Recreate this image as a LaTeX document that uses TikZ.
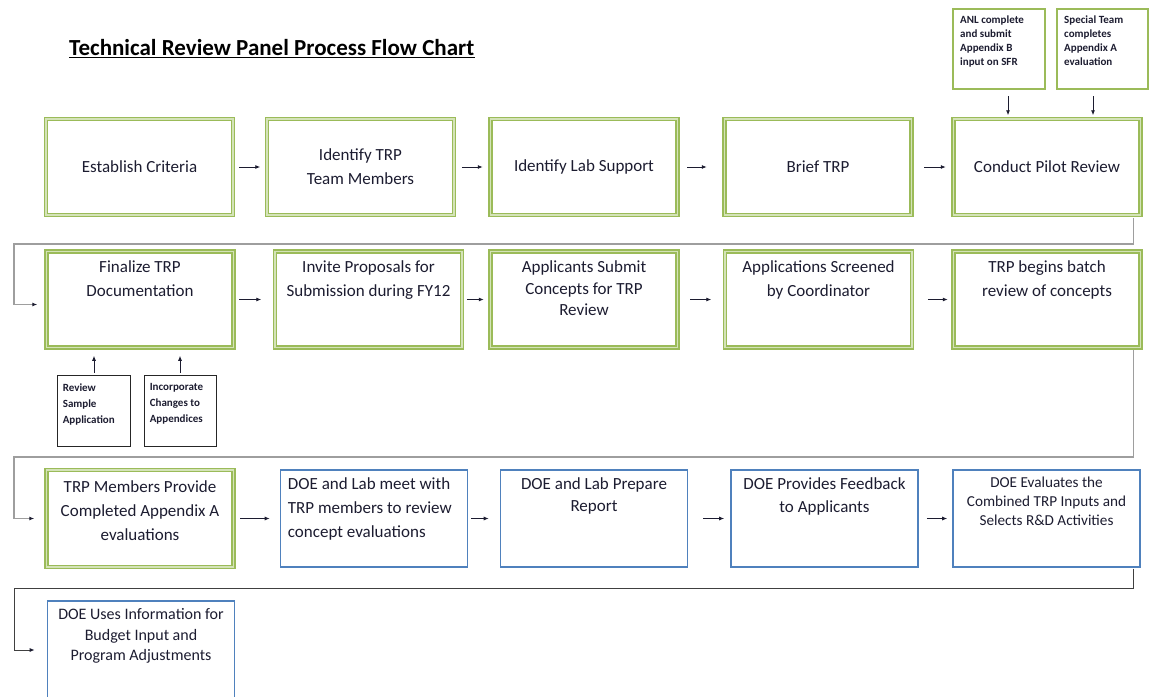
\documentclass[tikz,border=0pt]{standalone}
\usepackage{fontspec}
\setmainfont{Carlito}
\usepackage{tikz}
\usetikzlibrary{calc}
\usetikzlibrary{arrows.meta}
\definecolor{grn}{RGB}{155,187,89}
\definecolor{lgrn}{RGB}{212,227,184}
\definecolor{blu}{RGB}{79,129,189}
\definecolor{ink}{RGB}{28,28,48}

\begin{document}
\begin{tikzpicture}[x=1pt,y=-1pt,
	gbox/.style={draw=grn,line width=1.5pt,double=lgrn,double distance=1.3pt,minimum width=187pt,minimum height=96pt,inner sep=0pt},
	bbox/.style={draw=blu,line width=1.6pt,minimum width=187pt,minimum height=96.5pt,inner sep=0pt},
	sbox/.style={draw=grn,line width=2.2pt,minimum width=91.8pt,minimum height=79.8pt,inner sep=0pt},
	kbox/.style={draw=black!85,line width=0.8pt,minimum width=72pt,minimum height=71pt,inner sep=0pt},
	txt/.style={text=ink,font=\fontsize{17}{24}\selectfont,align=center,inner sep=0pt},
	stxt/.style={text=ink,font=\fontsize{11}{13.7}\selectfont\bfseries,align=left,inner sep=0pt,anchor=north west},
	arr/.style={draw=ink,line width=0.8pt,-{Latex[length=5pt,width=4pt]}},
	link/.style={draw=black!38,line width=1.3pt,-{Latex[length=5pt,width=4pt,color=ink]}}
	]
	\useasboundingbox (0,0) rectangle (1150,696);
	\node[txt,font=\fontsize{23}{24}\selectfont\bfseries,text=black,anchor=base west] (ttl) at (69,55) {Technical Review Panel Process Flow Chart};
	\draw[line width=1.6pt] ([yshift=-2.5pt]ttl.base west) -- ([yshift=-2.5pt]ttl.base east);

	\node[gbox,txt] (b11) at (139.5,167) {Establish Criteria};
	\node[gbox,txt] (b12) at (360.5,167) {Identify TRP\\Team Members};
	\node[gbox,txt] (b13) at (584,167) {Identify Lab Support};
	\node[gbox,txt] (b14) at (818,167) {Brief TRP};
	\node[gbox,txt] (b15) at (1047,167) {Conduct Pilot Review};

	\node[sbox] (a1) at (999,49) {};
	\node[sbox,minimum width=90.8pt] (a2) at (1102.5,49) {};
	\node[stxt] (ta1) at ([xshift=8pt,yshift=-8pt]a1.north west) {ANL complete\\and submit\\Appendix B\\input on SFR};
	\node[stxt] (ta2) at ([xshift=8pt,yshift=-8pt]a2.north west) {Special Team\\completes\\Appendix A\\evaluation};

	\node[gbox] (b21) at (140,299.5) {};
	\node[gbox] (b22) at (368.5,299.5) {};
	\node[gbox] (b23) at (584,299.5) {};
	\node[gbox] (b24) at (818.5,299.5) {};
	\node[gbox] (b25) at (1047,299.5) {};
	\node[txt,anchor=north] (t21) at ([yshift=-10pt]b21.north) {Finalize TRP\\Documentation};
	\node[txt,anchor=north] (t22) at ([yshift=-10pt]b22.north) {Invite Proposals for\\Submission during FY12};
	\node[txt,anchor=north,font=\fontsize{17}{21.5}\selectfont] (t23) at ([yshift=-10pt]b23.north) {Applicants Submit\\Concepts for TRP\\Review};
	\node[txt,anchor=north] (t24) at ([yshift=-10pt]b24.north) {Applications Screened\\by Coordinator};
	\node[txt,anchor=north] (t25) at ([yshift=-10pt]b25.north) {TRP begins batch\\review of concepts};

	\node[kbox,minimum width=73pt] (s1) at (94,411) {};
	\node[kbox] (s2) at (180,411) {};
	\node[stxt,font=\fontsize{11}{16}\selectfont\bfseries] (ts1) at ([xshift=5.5pt,yshift=-8.5pt]s1.north west) {Review\\Sample\\Application};
	\node[stxt,font=\fontsize{11}{16}\selectfont\bfseries] (ts2) at ([xshift=6pt,yshift=-8.5pt]s2.north west) {Incorporate\\Changes to\\Appendices};

	\node[gbox,minimum height=97pt] (b31) at (140,518.5) {};
	\node[bbox] (b32) at (374,518.5) {};
	\node[bbox] (b33) at (594,518.5) {};
	\node[bbox] (b34) at (824.5,518.5) {};
	\node[bbox] (b35) at (1046.5,518.5) {};
	\node[txt,anchor=north] (t31) at ([yshift=-11pt]b31.north) {TRP Members Provide\\Completed Appendix A\\evaluations};
	\node[txt,anchor=north west,align=left] (t32) at ([xshift=8pt,yshift=-8pt]b32.north west) {DOE and Lab meet with\\TRP members to review\\concept evaluations};
	\node[txt,anchor=north,font=\fontsize{17}{22}\selectfont] (t33) at ([yshift=-8pt]b33.north) {DOE and Lab Prepare\\Report};
	\node[txt,anchor=north,font=\fontsize{17}{23}\selectfont] (t34) at ([yshift=-8.5pt]b34.north) {DOE Provides Feedback\\to Applicants};
	\node[txt,anchor=north,font=\fontsize{15.2}{19}\selectfont] (t35) at ([yshift=-7.5pt]b35.north) {DOE Evaluates the\\Combined TRP Inputs and\\Selects R\&D Activities};

	\node[bbox,minimum height=98pt] (b41) at (141,650) {};
	\node[txt,anchor=north,font=\fontsize{16}{20.5}\selectfont] (t41) at ([yshift=-8.5pt]b41.north) {DOE Uses Information for\\Budget Input and\\Program Adjustments};

	\foreach \a/\b/\s/\e in {b11/b12/5/6,b12/b13/7/7,b13/b14/9/17,b14/b15/12/7,b21/b22/5/13,b22/b23/4/6,b23/b24/12/13,b24/b25/15/5,b31/b32/6/10,b32/b33/3/11,b33/b34/15/6,b34/b35/8/5}
		\draw[arr,shorten <=\s pt,shorten >=\e pt] (\a) -- (\b);

	\draw[arr,shorten <=6pt,shorten >=3pt] ($(a1.south)+(9,0)$) -- ($(a1.south |- b15.north)+(9,0)$);
	\draw[arr,shorten <=6pt,shorten >=3pt] ($(a2.south)+(-9.5,0)$) -- ($(a2.south |- b15.north)+(-9.5,0)$);
	\draw[arr,shorten <=2.5pt,shorten >=7.5pt] (s1.north) -- (s1.north |- b21.south);
	\draw[arr,shorten <=2.5pt,shorten >=7.5pt] (s2.north) -- (s2.north |- b21.south);

	\coordinate (k1) at (14,244);
	\coordinate (k2) at (14,457);
	\coordinate (k3) at (14,588);
	\draw[link,shorten <=2pt,shorten >=8.5pt] ($(b15.south east)+(-7.5,0)$) |- (k1) |- ($(b21.west)+(0,5)$);
	\draw[link,shorten <=2pt,shorten >=11.5pt] ($(b25.south east)+(-7.5,0)$) |- (k2) |- (b31.west);
	\draw[link,draw=black!75,line width=1pt,shorten <=1pt,shorten >=12pt] ($(b35.south east)+(-7,0)$) |- (k3) |- (b41.west);
\end{tikzpicture}
\end{document}
